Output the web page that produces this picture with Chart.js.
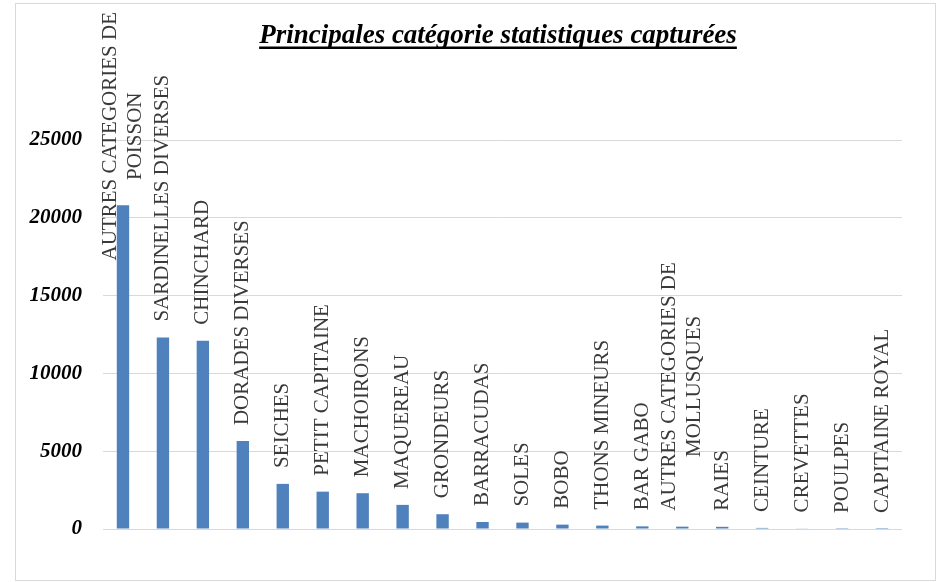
<!DOCTYPE html>
<html>
<head>
<meta charset="utf-8">
<script src="https://cdn.jsdelivr.net/npm/chart.js@4/dist/chart.umd.min.js"></script>
<style>
  html, body { margin: 0; padding: 0; background: #fff; }
  canvas { display: block; }
</style>
</head>
<body>
<canvas id="captures" width="941" height="582"></canvas>
<script>
// categories (multi-line ones as arrays) and their catch values
const categories = [
  ["AUTRES CATEGORIES DE", "POISSON"],
  "SARDINELLES DIVERSES",
  "CHINCHARD",
  "DORADES DIVERSES",
  "SEICHES",
  "PETIT CAPITAINE",
  "MACHOIRONS",
  "MAQUEREAU",
  "GRONDEURS",
  "BARRACUDAS",
  "SOLES",
  "BOBO",
  "THONS MINEURS",
  "BAR GABO",
  ["AUTRES CATEGORIES DE", "MOLLUSQUES"],
  "RAIES",
  "CEINTURE",
  "CREVETTES",
  "POULPES",
  "CAPITAINE ROYAL"
];
const captures = [20800, 12300, 12100, 5650, 2900, 2400, 2300, 1550, 950, 450,
                  410, 280, 220, 170, 150, 140, 70, 40, 8, 3];
const yMin = 0;
const yMax = 25000;
const yStep = 5000;

const title = "Principales catégorie statistiques capturées";
const serif = "'Liberation Serif', 'Times New Roman', serif";

// frame + underlined title
const framePlugin = {
  id: "frame",
  beforeDraw(chart) {
    const ctx = chart.ctx;
    ctx.save();
    ctx.fillStyle = "#fff";
    ctx.fillRect(0, 0, chart.width, chart.height);
    ctx.strokeStyle = "#d9d9d9";
    ctx.lineWidth = 1;
    ctx.strokeRect(15.5, 3.5, 920, 577);
    ctx.restore();
  },
  afterDraw(chart) {
    const ctx = chart.ctx;
    ctx.save();
    ctx.font = "bold italic 27px " + serif;
    ctx.fillStyle = "#000";
    ctx.textBaseline = "alphabetic";
    const w = ctx.measureText(title).width;
    const x = 498 - w / 2;
    ctx.fillText(title, x, 43);
    ctx.fillRect(x, 46.5, w, 2.5);
    ctx.restore();
  }
};

// rotated category names above each bar
const barLabels = {
  id: "barLabels",
  afterDatasetsDraw(chart) {
    const ctx = chart.ctx;
    const meta = chart.getDatasetMeta(0);
    const lineH = 25;
    ctx.save();
    ctx.font = "21px " + serif;
    ctx.fillStyle = "#3a3a3a";
    ctx.textBaseline = "middle";
    meta.data.forEach((bar, i) => {
      const lines = [].concat(categories[i]);
      const len = Math.max(...lines.map(l => ctx.measureText(l).width));
      let bottom = bar.y - 16;
      if (bottom - len < 12) bottom = 12 + len; // keep inside the chart
      ctx.save();
      ctx.translate(bar.x, bottom);
      ctx.rotate(-Math.PI / 2);
      ctx.textAlign = "center";
      lines.forEach((l, k) => {
        ctx.fillText(l, len / 2, (k - (lines.length - 1) / 2) * lineH);
      });
      ctx.restore();
    });
    ctx.restore();
  }
};

new Chart(document.getElementById("captures"), {
  type: "bar",
  data: {
    labels: categories,
    datasets: [{
      data: captures,
      backgroundColor: "#4f81bd",
      barPercentage: 0.31,
      categoryPercentage: 1
    }]
  },
  options: {
    responsive: false,
    animation: false,
    layout: { padding: { top: 140, right: 39, bottom: 53, left: 0 } },
    scales: {
      x: { display: false },
      y: {
        min: yMin,
        max: yMax,
        afterFit(s) { s.width = 103; },
        border: { display: false },
        grid: { color: "#d9d9d9", lineWidth: 1, drawTicks: false },
        ticks: {
          stepSize: yStep,
          padding: 21,
          color: "#000",
          font: { family: serif, size: 21, weight: "bold", style: "italic" },
          callback: v => String(v)
        }
      }
    },
    plugins: {
      legend: { display: false },
      tooltip: { enabled: false }
    }
  },
  plugins: [framePlugin, barLabels]
});
</script>
</body>
</html>
